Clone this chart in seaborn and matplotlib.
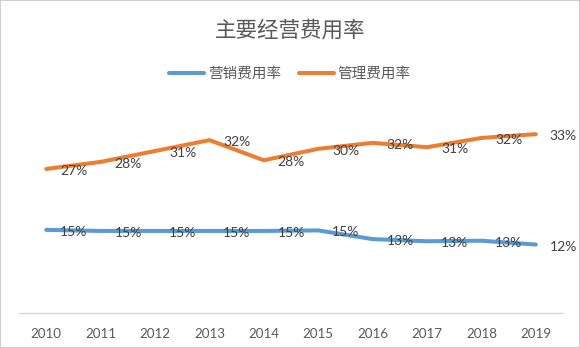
import matplotlib
matplotlib.use("Agg")
import matplotlib.pyplot as plt
from matplotlib.lines import Line2D
from matplotlib.patches import Rectangle
import seaborn as sns
import pandas as pd

years = ["2010", "2011", "2012", "2013", "2014", "2015", "2016", "2017", "2018", "2019"]
series_names = ["营销费用率", "管理费用率"]
sales_rate = [15.2, 15.0, 15.0, 15.0, 15.0, 15.1, 13.5, 13.1, 13.2, 12.5]
admin_rate = [26.4, 27.7, 29.7, 31.7, 28.0, 30.1, 31.2, 30.4, 32.1, 32.8]
sales_labels = ["15%", "15%", "15%", "15%", "15%", "15%", "13%", "13%", "13%", "12%"]
admin_labels = ["27%", "28%", "31%", "32%", "28%", "30%", "32%", "31%", "32%", "33%"]
colors = ["#5B9BD5", "#ED7D31"]
title = "主要经营费用率"

sns.set_theme(style="white")
plt.rcParams["font.family"] = ["Lato", "Noto Sans CJK SC", "DejaVu Sans"]

df = pd.DataFrame({
    "year": years * 2,
    "series": [series_names[0]] * len(years) + [series_names[1]] * len(years),
    "value": sales_rate + admin_rate,
})

fig = plt.figure(figsize=(5.8, 3.48), dpi=100)
fig.patch.set_facecolor("white")
ax = fig.add_axes([0.0328, 0.102, 0.9379, 0.625])

sns.lineplot(data=df, x="year", y="value", hue="series", palette=colors,
             linewidth=2.9, sort=False, legend=False, ax=ax, solid_capstyle="round")

for vals, labs in ((sales_rate, sales_labels), (admin_rate, admin_labels)):
    for yr, v, lab in zip(years, vals, labs):
        ax.annotate(lab, xy=(yr, v), xytext=(10, -1.5), textcoords="offset points",
                    ha="left", va="center", fontsize=10, color="#404040",
                    family=["Lato", "DejaVu Sans"])

ax.set_xlim(-0.5, len(years) - 0.5)
ax.set_ylim(0, 40)
ax.set_yticks([])
ax.set_xlabel("")
ax.set_ylabel("")
for s in ("top", "right", "left"):
    ax.spines[s].set_visible(False)
ax.spines["bottom"].set_color("#d9d9d9")
ax.spines["bottom"].set_linewidth(1.0)
ax.tick_params(axis="x", length=0, pad=11, labelsize=9.6, labelcolor="#595959")
ax.set_facecolor("none")

fig.text(0.5, 0.911, title, ha="center", va="center", fontsize=15.5, fontweight="light",
         color="#595959", family=["Noto Sans CJK SC", "DejaVu Sans"])

handles = [Line2D([0], [0], color=c, linewidth=2.9, solid_capstyle="round") for c in colors]
fig.legend(handles, series_names, loc="center", bbox_to_anchor=(0.5, 0.787), ncol=2,
           frameon=False, handlelength=2.4, handletextpad=0.25, columnspacing=1.2,
           prop={"family": ["Noto Sans CJK SC", "DejaVu Sans"], "size": 10.5, "weight": "light"},
           labelcolor="#595959")

fig.patches.append(Rectangle((0, 0), 1, 1, transform=fig.transFigure, fill=False,
                             edgecolor="#cfcfcf", linewidth=1.5))

fig.savefig("out.png", dpi=100)
